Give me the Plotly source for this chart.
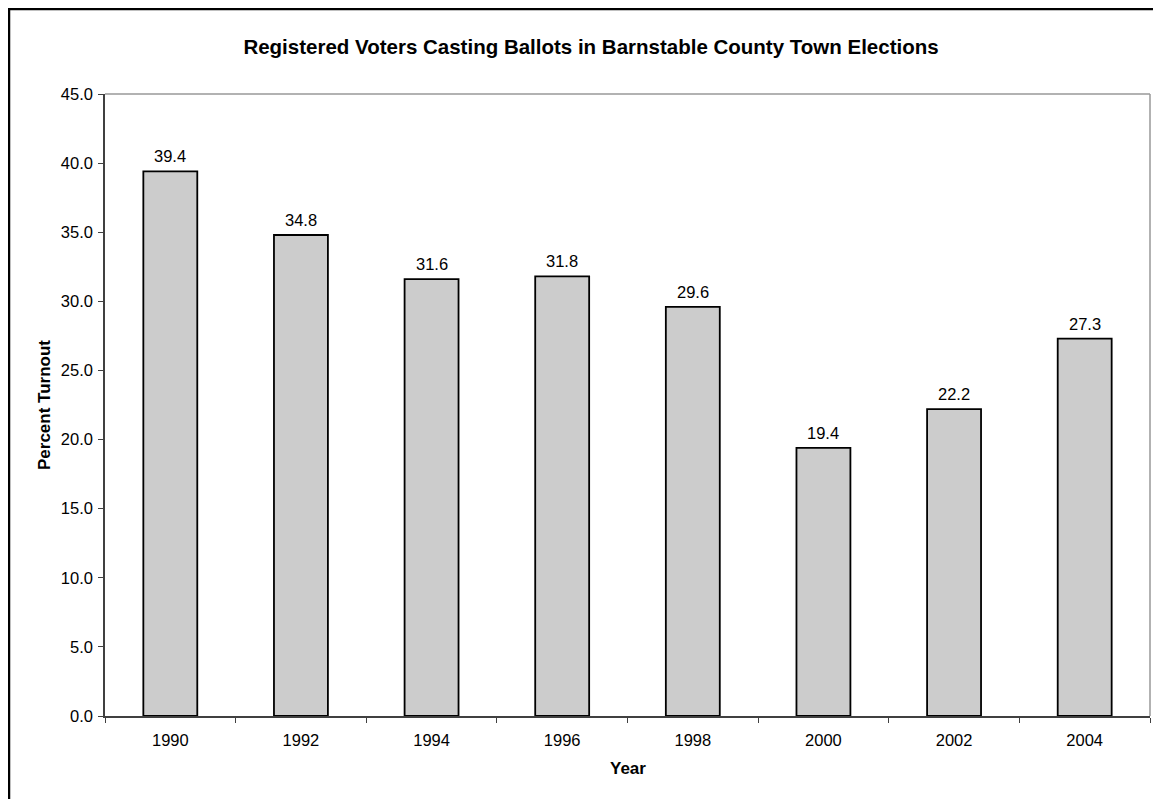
import plotly.graph_objects as go

years = ["1990", "1992", "1994", "1996", "1998", "2000", "2002", "2004"]
turnout = [39.4, 34.8, 31.6, 31.8, 29.6, 19.4, 22.2, 27.3]
y_ticks = [0, 5, 10, 15, 20, 25, 30, 35, 40, 45]

W, H = 1161, 799
L, R, T, B = 97, 1142, 86, 708
pw, ph = R - L, B - T

def px(x):
    return (x - L) / pw

def py(y):
    return (B - y) / ph

FONT = "Liberation Sans, Arial, sans-serif"

fig = go.Figure(go.Bar(
    x=years, y=turnout,
    marker=dict(color="#CCCCCC", line=dict(color="#000000", width=1.8)),
    hoverinfo="x+y",
))

# value labels above bars (category axis: position by category index)
for i, v in enumerate(turnout):
    fig.add_annotation(x=i, y=v, xref="x", yref="y", text=f"{v:.1f}", showarrow=False,
                       xanchor="center", yanchor="bottom", yshift=4,
                       font=dict(size=16.5, color="#000000"))

fig.update_layout(
    width=W, height=H,
    margin=dict(l=L, r=W - R, t=T, b=H - B, autoexpand=False),
    paper_bgcolor="white", plot_bgcolor="white",
    bargap=0.587, showlegend=False,
    font=dict(family=FONT, size=16.5, color="#000000"),
    title=dict(text="<b>Registered Voters Casting Ballots in Barnstable County Town Elections</b>",
               x=583 / W, xref="container", xanchor="center",
               y=1 - 39 / H, yref="container", yanchor="middle",
               font=dict(size=20.5, color="#000000")),
)
fig.update_xaxes(
    type="category", categoryorder="array", categoryarray=years,
    range=[-0.5, len(years) - 0.5],
    showline=True, linecolor="#404040", linewidth=1.5,
    ticks="outside", tickson="boundaries", ticklen=5, tickcolor="#404040",
    ticklabelstandoff=8, tickangle=0, tickfont=dict(size=16.5),
    showgrid=False, zeroline=False,
)
fig.update_yaxes(
    range=[0, 45], tickvals=y_ticks, ticktext=[f"{v:.1f}" for v in y_ticks],
    showline=True, linecolor="#404040", linewidth=1.5,
    ticks="outside", ticklen=5, tickcolor="#404040", ticklabelstandoff=2,
    tickfont=dict(size=16.5), showgrid=False, zeroline=False,
)

fig.add_annotation(text="<b>Percent Turnout</b>", xref="paper", yref="paper",
                   x=px(36), y=0.5, textangle=-90, showarrow=False,
                   xanchor="center", yanchor="middle", font=dict(size=17))
fig.add_annotation(text="<b>Year</b>", xref="paper", yref="paper",
                   x=0.5, y=py(760), showarrow=False,
                   xanchor="center", yanchor="middle", font=dict(size=17))

# plot area border (top and right) in gray
fig.add_shape(type="line", xref="paper", yref="paper", x0=0, x1=1, y0=1, y1=1,
              line=dict(color="#999999", width=1.5))
fig.add_shape(type="line", xref="paper", yref="paper", x0=1, x1=1, y0=0, y1=1,
              line=dict(color="#999999", width=1.5))
# outer chart border (extends past the visible page on the right and bottom)
fig.add_shape(type="rect", xref="paper", yref="paper",
              x0=px(1), x1=px(1200), y0=py(840), y1=py(1),
              line=dict(color="#000000", width=2.5), fillcolor="rgba(0,0,0,0)")

fig.write_html("out.html")
